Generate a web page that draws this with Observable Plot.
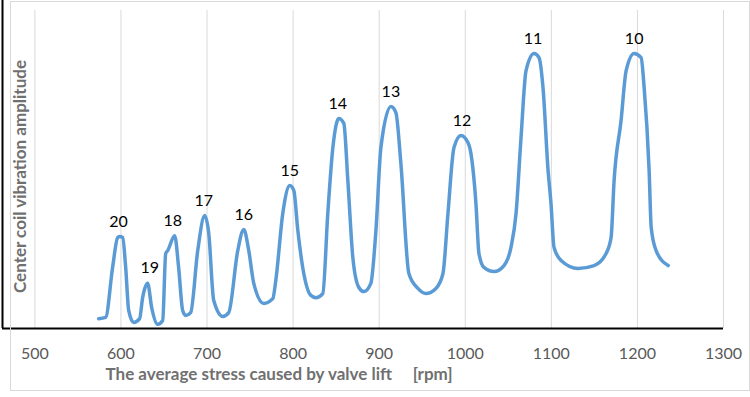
<!DOCTYPE html>
<html><head><meta charset="utf-8">
<script src="https://cdn.jsdelivr.net/npm/d3@7"></script>
<script src="https://cdn.jsdelivr.net/npm/@observablehq/plot@0.6"></script>
<style>
body{margin:0;background:#fff;}
#wrap{position:relative;width:750px;height:397px;overflow:hidden;}
#border{position:absolute;left:10px;top:1px;width:738px;height:388px;border:1px solid #d9d9d9;pointer-events:none;}
</style></head><body>
<div id="wrap"><div id="border"></div></div>
<script>
// Curve samples: engine speed [rpm] and relative vibration amplitude
const rpm = [574.1, 582.2, 590.3, 596.2, 598.8, 602.0, 605.5, 609.0, 614.8, 621.7,
  625.2, 631.0, 635.7, 642.7, 648.5, 652.0, 654.3, 662.4, 667.0, 671.7,
  675.2, 681.0, 689.2, 697.3, 702.0, 707.8, 718.3, 725.2, 735.7, 742.7,
  748.5, 754.3, 765.9, 776.4, 779.9, 788.0, 796.2, 800.8, 805.5, 812.4,
  820.6, 826.4, 834.5, 840.3, 846.2, 853.1, 858.9, 863.6, 869.4, 876.4,
  882.2, 890.3, 896.2, 902.0, 913.6, 919.4, 925.2, 934.5, 945.0, 954.3,
  965.9, 974.1, 979.9, 986.9, 995.0, 1003.1, 1006.6, 1012.4, 1015.9, 1021.7,
  1033.4, 1045.0, 1053.1, 1059.0, 1064.8, 1070.6, 1079.9, 1085.7, 1090.3, 1096.2,
  1099.6, 1103.1, 1111.3, 1131.0, 1149.7, 1163.6, 1169.4, 1172.9, 1181.0, 1186.9,
  1196.2, 1204.3, 1207.8, 1213.6, 1216.0, 1221.7, 1235.7];
const amplitude = [3.1, 3.5, 19.2, 28.6, 28.9, 28.6, 19.2, 5.7, 1.9, 3.1,
  9.7, 14.2, 6.6, 1.3, 2.5, 23.6, 24.5, 29.2, 19.2, 5.7,
  4.1, 5.0, 24.5, 35.5, 29.9, 8.8, 3.8, 5.0, 24.5, 31.1,
  24.5, 14.2, 7.9, 9.4, 15.1, 36.2, 45.0, 43.4, 30.8, 17.3,
  10.4, 9.7, 11.0, 36.2, 56.9, 66.0, 64.5, 46.5, 22.3, 12.9,
  11.6, 14.2, 30.8, 56.9, 69.8, 67.9, 51.9, 17.3, 12.6, 11.0,
  12.6, 17.3, 36.2, 56.9, 60.7, 58.5, 55.0, 39.3, 23.6, 19.2,
  17.9, 19.8, 25.5, 36.2, 60.1, 81.1, 86.5, 85.2, 75.8, 49.7,
  39.3, 25.5, 21.4, 18.9, 19.8, 23.6, 28.6, 46.5, 65.4, 81.1,
  86.5, 85.2, 75.8, 49.7, 31.8, 24.5, 19.8];

// Peak annotations (order numbers)
const peakLabels = ["20", "19", "18", "17", "16", "15", "14", "13", "12", "11", "10"];
const peakRpm = [597.3, 633.4, 660.1, 696.2, 742.7, 796.2, 852.0, 913.6, 996.2, 1078.7, 1196.2];
const peakAmp = [28.9, 14.2, 29.2, 35.5, 31.1, 45.0, 66.0, 69.8, 60.7, 86.5, 86.5];

const xTicks = [500, 600, 700, 800, 900, 1000, 1100, 1200, 1300];
const xDomain = [462.4, 1300];
const yDomain = [0, 100];
const yTitle = "Center coil vibration amplitude";
const xTitle = "The average stress caused by valve lift\u00a0\u00a0\u00a0\u00a0\u00a0[rpm]";

const data = rpm.map((r, i) => ({rpm: r, amp: amplitude[i]}));
const peaks = peakLabels.map((l, i) => ({label: l, rpm: peakRpm[i], amp: peakAmp[i]}));

const chart = Plot.plot({
  width: 750, height: 397,
  marginLeft: 2, marginRight: 27, marginTop: 10, marginBottom: 69,
  style: {fontFamily: "Lato, sans-serif", background: "transparent", overflow: "visible"},
  x: {domain: xDomain},
  y: {domain: yDomain, axis: null},
  marks: [
    Plot.gridX(xTicks, {stroke: "#d9d9d9", strokeOpacity: 1, strokeWidth: 1}),
    Plot.axisX(xTicks, {tickSize: 0, tickPadding: 19, fontSize: 16, fill: "#595959", label: null, tickFormat: d => String(d)}),
    Plot.line(data, {x: "rpm", y: "amp", curve: "monotone-x", stroke: "#5b9bd5", strokeWidth: 3.5, strokeLinecap: "round", strokeLinejoin: "round"}),
    Plot.text(peaks, {x: "rpm", y: "amp", text: "label", dy: -15, fontSize: 16, fill: "#000"}),
    Plot.ruleY([yDomain[0]], {stroke: "#000", strokeWidth: 2}),
    Plot.ruleX([xDomain[0]], {y1: yDomain[0], y2: 103.2, stroke: "#000", strokeWidth: 2}),
    Plot.text([yTitle], {frameAnchor: "left", textAnchor: "middle", rotate: -90, dx: 18, dy: 7, fontSize: 17, fontWeight: "bold", fill: "#707070"}),
    Plot.text([xTitle], {frameAnchor: "bottom-left", textAnchor: "start", dx: 103, dy: 51, fontSize: 17, fontWeight: "bold", fill: "#707070"})
  ]
});
document.getElementById("wrap").appendChild(chart);
</script>
</body></html>
